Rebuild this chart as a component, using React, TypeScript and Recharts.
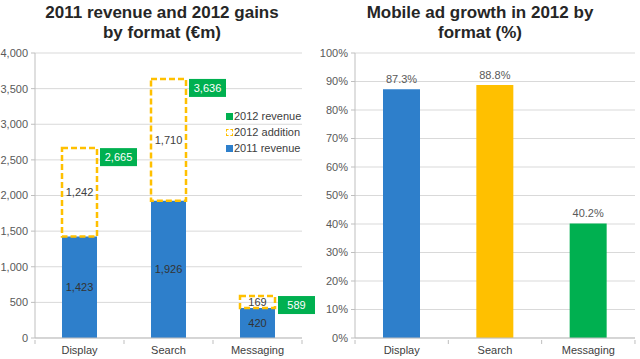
import React from 'react';
import {
  BarChart, Bar, XAxis, YAxis, CartesianGrid, LabelList, Cell,
} from 'recharts';

// left chart: revenue by format (€m)
const formats = ['Display', 'Search', 'Messaging'];
const revenue2011 = [1423, 1926, 420];
const addition2012 = [1242, 1710, 169];
const revenue2012 = [2665, 3636, 589];
const revenueTicks = [0, 500, 1000, 1500, 2000, 2500, 3000, 3500, 4000];

// right chart: mobile ad growth (%)
const growth2012 = [87.3, 88.8, 40.2];
const growthColors = ['#2E7FCB', '#FFC000', '#00B050'];
const growthTicks = [0, 10, 20, 30, 40, 50, 60, 70, 80, 90, 100];

const legendItems = [
  { label: '2012 revenue', kind: 'green' },
  { label: '2012 addition', kind: 'dashed' },
  { label: '2011 revenue', kind: 'blue' },
];

const BLUE = '#2E7FCB';
const YELLOW = '#FFC000';
const GREEN = '#00B050';
const FONT = '"Liberation Sans", Arial, sans-serif';
const AXIS = '#BFBFBF';
const GRID = '#D9D9D9';

const revenueData = formats.map((name, i) => ({
  name,
  base: revenue2011[i],
  addition: addition2012[i],
  total: revenue2012[i],
}));

const growthData = formats.map((name, i) => ({ name, growth: growth2012[i] }));

const fmt = (v: number) => v.toLocaleString('en-US');

function makeTick(band: number) {
  return function CategoryTick(props: any) {
    const { x, y, payload, index } = props;
    return (
      <g>
        {index === 0 && (
          <line x1={x - band / 2} x2={x - band / 2} y1={y} y2={y + 4} stroke={AXIS} />
        )}
        <line x1={x + band / 2} x2={x + band / 2} y1={y} y2={y + 4} stroke={AXIS} />
        <text x={x} y={y + 6} dy="0.71em" textAnchor="middle" fontSize={11} fill="#404040">
          {payload.value}
        </text>
      </g>
    );
  };
}

function TotalBox(props: any) {
  const { x, y, width, value } = props;
  const bx = x + width + 3;
  return (
    <g>
      <rect x={bx} y={y} width={37} height={18} fill={GREEN} />
      <text x={bx + 18.5} y={y + 9} dy="0.35em" textAnchor="middle" fontSize={11} fill="#fff">
        {fmt(value)}
      </text>
    </g>
  );
}

function RevenueLegend() {
  return (
    <div style={{ position: 'absolute', top: 108, left: 226, fontSize: 11, color: '#404040', lineHeight: '16px' }}>
      {legendItems.map(item => (
        <div key={item.label} style={{ display: 'flex', alignItems: 'center' }}>
          <span
            style={{
              display: 'inline-block',
              width: item.kind === 'dashed' ? 5 : 7,
              height: item.kind === 'dashed' ? 5 : 7,
              marginRight: 1,
              background: item.kind === 'green' ? GREEN : item.kind === 'blue' ? BLUE : 'transparent',
              border: item.kind === 'dashed' ? `1px dashed ${YELLOW}` : 'none',
            }}
          />
          {item.label}
        </div>
      ))}
    </div>
  );
}

const titleStyle: React.CSSProperties = {
  position: 'absolute',
  top: 3,
  left: 0,
  width: 320,
  textAlign: 'center',
  fontWeight: 'bold',
  fontSize: 17,
  lineHeight: '20px',
  color: '#262626',
};

export default function App() {
  return (
    <div style={{ position: 'fixed', left: 0, top: 0, width: 640, height: 359, background: '#fff', fontFamily: FONT }}>
      <div style={{ position: 'absolute', left: 0, top: 0, width: 320, height: 359 }}>
        <div style={{ ...titleStyle, left: 2 }}>2011 revenue and 2012 gains<br />by format (€m)</div>
        <BarChart width={320} height={359} data={revenueData} margin={{ top: 53, right: 18, left: 0, bottom: 5 }}>
          <CartesianGrid vertical={false} stroke={GRID} />
          <XAxis
            dataKey="name"
            height={16}
            tickSize={0}
            tickLine={false}
            axisLine={{ stroke: AXIS }}
            tick={makeTick(89)}
            interval={0}
          />
          <YAxis
            width={35}
            domain={[0, 4000]}
            ticks={revenueTicks}
            tickFormatter={fmt}
            tickSize={4}
            tickMargin={3}
            tick={{ fontSize: 11, fill: '#595959' }}
            tickLine={{ stroke: AXIS }}
            axisLine={{ stroke: AXIS }}
          />
          <Bar dataKey="base" stackId="a" fill={BLUE} barSize={35} isAnimationActive={false}>
            <LabelList dataKey="base" position="center" formatter={fmt} fontSize={11} fill="#333" />
          </Bar>
          <Bar
            dataKey="addition"
            stackId="a"
            fill="transparent"
            stroke={YELLOW}
            strokeWidth={2.5}
            strokeDasharray="6 3"
            barSize={35}
            isAnimationActive={false}
          >
            <LabelList dataKey="addition" position="center" formatter={fmt} fontSize={11} fill="#404040" />
            <LabelList dataKey="total" content={<TotalBox />} />
          </Bar>
        </BarChart>
        <RevenueLegend />
      </div>
      <div style={{ position: 'absolute', left: 320, top: 0, width: 320, height: 359 }}>
        <div style={titleStyle}>Mobile ad growth in 2012 by<br />format (%)</div>
        <BarChart width={320} height={359} data={growthData} margin={{ top: 53, right: 5, left: 0, bottom: 5 }}>
          <CartesianGrid vertical={false} stroke={GRID} />
          <XAxis
            dataKey="name"
            height={16}
            tickSize={0}
            tickLine={false}
            axisLine={{ stroke: AXIS }}
            tick={makeTick(93.3)}
            interval={0}
          />
          <YAxis
            width={35}
            domain={[0, 100]}
            ticks={growthTicks}
            tickFormatter={v => `${v}%`}
            tickSize={4}
            tickMargin={3}
            tick={{ fontSize: 11, fill: '#595959' }}
            tickLine={{ stroke: AXIS }}
            axisLine={{ stroke: AXIS }}
          />
          <Bar dataKey="growth" barSize={37} isAnimationActive={false}>
            {growthData.map((d, i) => (
              <Cell key={d.name} fill={growthColors[i]} />
            ))}
            <LabelList
              dataKey="growth"
              position="top"
              offset={6}
              formatter={(v: number) => `${v.toFixed(1)}%`}
              fontSize={11}
              fill="#595959"
            />
          </Bar>
        </BarChart>
      </div>
    </div>
  );
}
